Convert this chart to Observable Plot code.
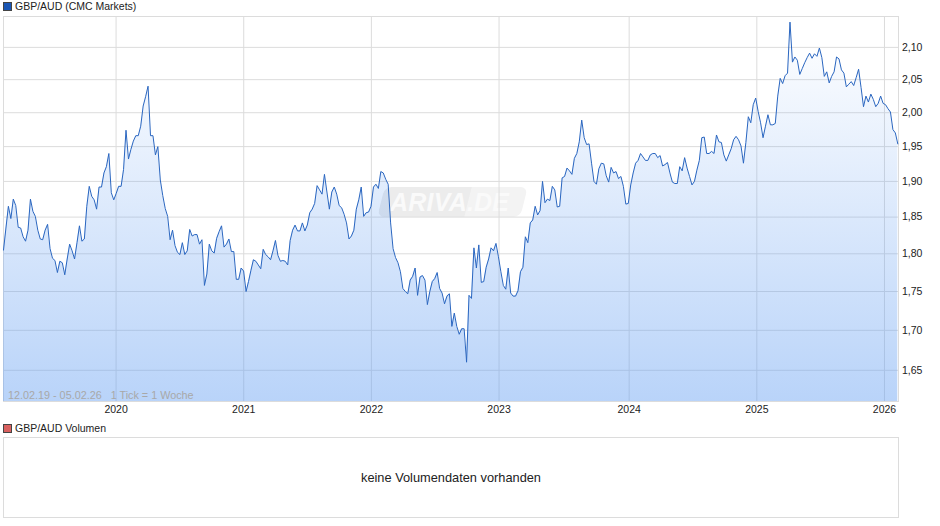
<!DOCTYPE html>
<html>
<head>
<meta charset="utf-8">
<script src="https://cdn.jsdelivr.net/npm/d3@7"></script>
<script src="https://cdn.jsdelivr.net/npm/@observablehq/plot@0.6"></script>
<style>
  html, body { margin: 0; padding: 0; background: #fff; }
  body { width: 940px; height: 526px; position: relative; overflow: hidden;
         font-family: "Liberation Sans", Arial, sans-serif; font-size: 10.5px; color: #222; }
  .abs { position: absolute; white-space: pre; }
  .sq { position: absolute; width: 7px; height: 7px; border: 1px solid #444; }
  #chart { position: absolute; left: 0; top: 0; }
  #chart svg { display: block; }
  .wm { position: absolute; top: 187px; height: 30px; transform: skewX(-14deg); }
  .wmt { position: absolute; top: 187px; height: 30px; font: italic bold 25px/31px "Liberation Sans", Arial, sans-serif;
         color: #fafafa; letter-spacing: 0.2px; white-space: pre; }
</style>
</head>
<body>
<div class="wm" style="left:381px;width:95px;background:#ececec;border-radius:7px 0 0 7px"></div>
<div class="wm" style="left:468px;width:56px;background:#f3f3f3;border-radius:0 7px 7px 0"></div>
<div class="wmt" style="left:390px">ARIVA.DE</div>
<div id="chart"></div>
<div class="sq" style="left:3px;top:2px;background:#1a56b4"></div>
<div class="abs" style="left:15px;top:0px;line-height:12px">GBP/AUD (CMC Markets)</div>
<div class="abs" style="left:8px;top:389px;line-height:12px;font-size:10.8px;color:#a8a8a8">12.02.19 - 05.02.26   1 Tick = 1 Woche</div>
<div class="sq" style="left:3px;top:424px;background:#d9605f"></div>
<div class="abs" style="left:15px;top:422px;line-height:12px">GBP/AUD Volumen</div>
<div class="abs" style="left:3px;top:437px;width:894px;height:79px;border:1px solid #dcdcdc;line-height:80px;text-align:center;font-size:12.8px">keine Volumendaten vorhanden</div>
<script>
const startDate = new Date("2019-02-12");
const endDate = new Date("2026-02-05");
const rates2019a = [1.805,1.835,1.865,1.848,1.875,1.866,1.836,1.835,1.823,1.817,1.832,1.875,1.858,1.851,1.832,1.82,1.819,1.832,1.84,1.807,1.794,1.791,
  1.775,1.79,1.788,1.772,1.793,1.813,1.804,1.793,1.815,1.838];
const rates2020a = [1.817,1.82,1.865,1.893,1.879,1.874,1.861,1.892,1.892,1.912,1.921,1.94,1.884,1.874,1.883,1.893,1.893,1.917,1.974,1.932,1.946,1.958,1.966,1.966,1.98,2.01,2.024,2.04,1.966,1.966,1.938,1.95,1.902,1.88,1.862,1.851];
const rates2020b = [1.819,1.832,1.811,1.802,1.799,1.815,1.799,1.804,1.833,1.824,1.826,1.826,1.813,1.819,1.758,1.773,1.813,1.804,1.801,1.821,1.83,1.838,1.809,1.813,1.82,1.803,1.803,1.766,1.766,1.781,1.777,1.75,1.763,1.778,1.792,1.79,1.785,1.78,1.806,1.799,1.796,1.792,1.804,1.818,1.798,1.79,1.791,1.79,1.785];
const rates2021 = [1.818,1.832,1.839,1.831,1.831,1.842,1.831,1.839,1.856,1.861,1.869,1.894,1.888,1.882,1.91,1.885,1.861,1.885,1.892,1.882,1.866,1.863,1.854,1.842,1.82,1.824,1.832,1.861,1.874,1.892,1.851,1.856,1.857,1.865,1.892,1.896,1.89,1.914,1.912,1.903,1.896,1.842,1.807];
const rates2022 = [1.795,1.788,1.776,1.754,1.75,1.747,1.765,1.77,1.781,1.745,1.769,1.771,1.765,1.733,1.75,1.763,1.767,1.775,1.754,1.748,1.734,1.744,1.747,1.705,1.722,1.705,1.695,1.702,1.702,1.66,1.745,1.741,1.808,1.781,1.812,1.762,1.763,1.782,1.793,1.808,1.804,1.814,1.796,1.776,1.758,1.753,1.781,1.748,1.744,1.744,1.751,1.776,1.782,1.823,1.815,1.842,1.846,1.865,1.853,1.859,1.90,1.87,1.875,1.873,1.893,1.888,1.864,1.865,1.905,1.907,1.919,1.915,1.91,1.933,1.94,1.957];
const rates2023 = [1.989,1.963,1.953,1.954,1.926,1.90,1.896,1.918,1.926,1.925,1.908,1.899,1.92,1.912,1.914,1.904,1.907];
const rates2024 = [1.893,1.868,1.869,1.895,1.912,1.926,1.93,1.94,1.935,1.93,1.93,1.938,1.94,1.94,1.934,1.937,1.922,1.924,1.927,1.912,1.899,1.897,1.897,1.921,1.915,1.934,1.919,1.907,1.895,1.90,1.916,1.93,1.963,1.964,1.94,1.94,1.943,1.94,1.967,1.957,1.956,1.938,1.929,1.938,1.947,1.96,1.965,1.96,1.951,1.926,1.956,1.994,1.985,2.012,2.022,2.002,1.985,1.963,1.98,1.997,1.982,1.982,1.984];
const rates2025 = [2.025,2.052,2.044,2.056,2.06,2.14,2.077,2.085,2.08,2.058,2.067,2.076,2.084,2.091,2.083,2.09,2.086,2.099,2.084,2.055,2.062,2.045,2.055,2.062,2.085,2.082,2.065,2.06,2.039,2.043,2.047,2.041,2.053,2.066,2.038,2.009,2.025,2.016,2.028,2.02,2.009,2.014,2.025,2.014,2.012,2.006,2.001,1.975,1.97,1.954];
const yTicks = [1.65,1.70,1.75,1.80,1.85,1.90,1.95,2.00,2.05,2.10];
// The chart has one tick per week, so each year label sits on the Monday of that year's first week.
const yearLabels = ["2020","2021","2022","2023","2024","2025","2026"];
const yearWeeks = ["2019-12-30","2020-12-28","2021-12-27","2022-12-26","2024-01-01","2024-12-30","2025-12-29"].map(d => new Date(d));
const yDomain = [1.612, 2.149];
const xDomain = [startDate, new Date("2026-02-07")];

const rates = [...rates2019a,...rates2020a,...rates2020b,...rates2021,...rates2022,...rates2023,...rates2024,...rates2025];
const n = rates.length;
const rows = rates.map((v,i) => ({date:new Date(+startDate + i*(endDate-startDate)/(n-1)), v}));

const gradient = () => {
  const defs = d3.create("svg:defs");
  const g = defs.append("linearGradient").attr("id","areaGrad").attr("x1",0).attr("x2",0).attr("y1",0).attr("y2",1);
  g.append("stop").attr("offset","0%").attr("stop-color","#639ef2").attr("stop-opacity",0);
  g.append("stop").attr("offset","100%").attr("stop-color","#639ef2").attr("stop-opacity",0.45);
  return defs.node();
};

const plot = Plot.plot({
  width: 940, height: 420,
  marginTop: 16, marginBottom: 19, marginLeft: 3, marginRight: 42,
  style: {background:"transparent", fontFamily:'"Liberation Sans", Arial, sans-serif', fontSize:"10.5px", color:"#222"},
  x: {type:"utc", domain:xDomain},
  y: {type:"log", domain:yDomain},
  marks: [
    gradient,
    Plot.gridY(yTicks, {stroke:"#dcdcdc", strokeOpacity:1, strokeWidth:1}),
    Plot.gridX(yearWeeks, {stroke:"#dcdcdc", strokeOpacity:1, strokeWidth:1}),
    Plot.frame({stroke:"#dcdcdc", strokeWidth:1}),
    Plot.areaY(rows, {x:"date", y1:() => yDomain[0], y2:"v", fill:"url(#areaGrad)"}),
    Plot.lineY(rows, {x:"date", y:"v", stroke:"#2a66c0", strokeWidth:1}),
    Plot.axisX({ticks:yearWeeks, tickFormat:(d,i) => yearLabels[i], tickSize:0, tickPadding:4, label:null}),
    Plot.axisY({anchor:"right", ticks:yTicks, tickFormat:d => d.toFixed(2).replace(".",","), tickSize:0, tickPadding:3.5, label:null})
  ]
});
document.getElementById("chart").appendChild(plot);
</script>
</body>
</html>
